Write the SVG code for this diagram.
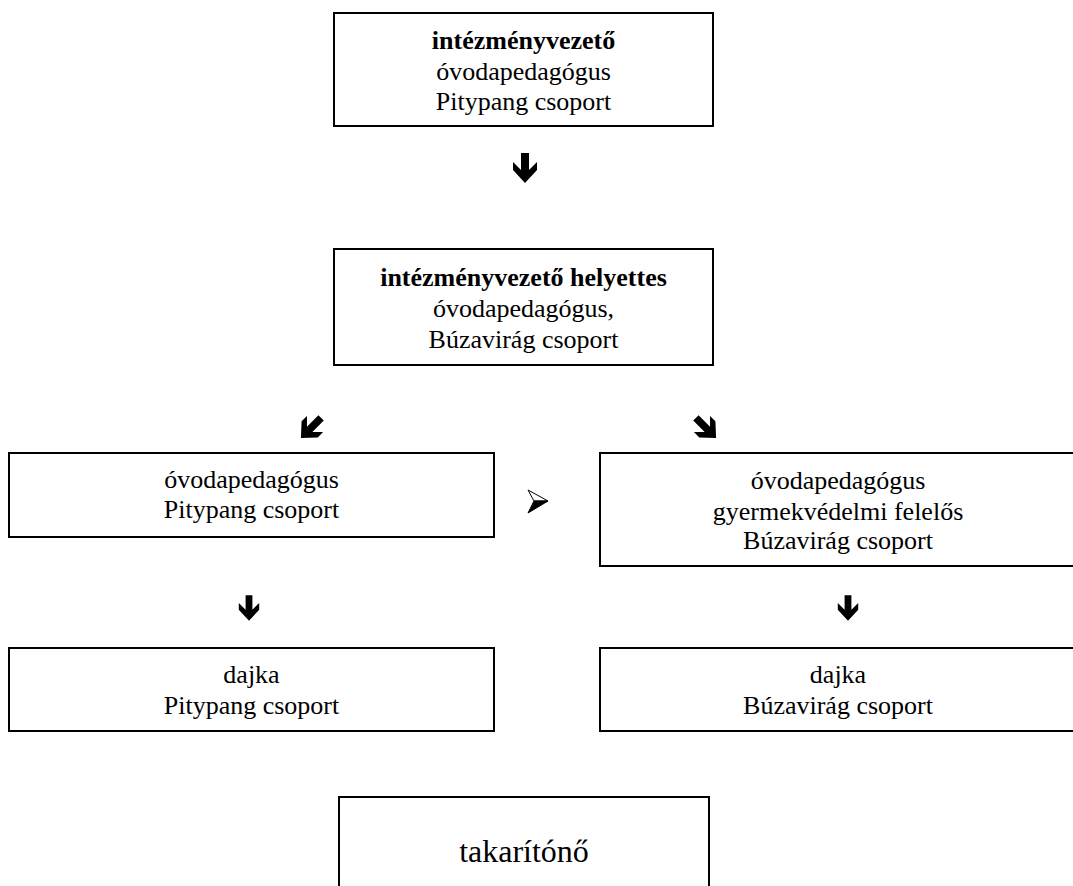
<svg xmlns="http://www.w3.org/2000/svg" width="1073" height="886" viewBox="0 0 1073 886">
<style>
.box{fill:#fff;stroke:#000;stroke-width:2}
.t{font-family:"Liberation Serif","Times New Roman",serif;font-size:26px;fill:#000;text-anchor:middle}
.b{font-weight:bold}
.big{font-size:32px}
.arr{fill:#000}
</style>
<defs>
<path id="dn" d="M-4,-15 L4,-15 L4,2 L12,-6 L12,2 L0,15 L-12,2 L-12,-6 L-4,2 Z"/>
</defs>
<rect width="1073" height="886" fill="#fff"/>
<g id="n1">
<rect class="box" x="334" y="13" width="379" height="113"/>
<text class="t b" x="523.5" y="49">intézményvezető</text>
<text class="t" x="523.5" y="80">óvodapedagógus</text>
<text class="t" x="523.5" y="110">Pitypang csoport</text>
</g>
<g id="n2">
<rect class="box" x="334" y="249" width="379" height="116"/>
<text class="t b" x="523.5" y="286">intézményvezető helyettes</text>
<text class="t" x="523.5" y="317">óvodapedagógus,</text>
<text class="t" x="523.5" y="348">Búzavirág csoport</text>
</g>
<g id="n3">
<rect class="box" x="9" y="453" width="485" height="84"/>
<text class="t" x="251.5" y="488">óvodapedagógus</text>
<text class="t" x="251.5" y="518">Pitypang csoport</text>
</g>
<g id="n4">
<rect class="box" x="600" y="453" width="476" height="113"/>
<text class="t" x="838" y="489">óvodapedagógus</text>
<text class="t" x="838" y="520">gyermekvédelmi felelős</text>
<text class="t" x="838" y="549">Búzavirág csoport</text>
</g>
<g id="n5">
<rect class="box" x="9" y="648" width="485" height="83"/>
<text class="t" x="251.5" y="683">dajka</text>
<text class="t" x="251.5" y="714">Pitypang csoport</text>
</g>
<g id="n6">
<rect class="box" x="600" y="648" width="476" height="83"/>
<text class="t" x="838" y="683">dajka</text>
<text class="t" x="838" y="714">Búzavirág csoport</text>
</g>
<g id="n7">
<rect class="box" x="339" y="797" width="370" height="100"/>
<text class="t big" x="524" y="862">takarítónő</text>
</g>
<g id="connectors">
<use href="#dn" class="arr" transform="translate(525,168)"/>
<use href="#dn" class="arr" transform="translate(311,428) rotate(45) scale(0.95)"/>
<use href="#dn" class="arr" transform="translate(706,428) rotate(-45) scale(0.95)"/>
<use href="#dn" class="arr" transform="translate(249,608) scale(0.85)"/>
<use href="#dn" class="arr" transform="translate(848,608) scale(0.85)"/>
<polygon points="528,490 548,501 534,501" fill="#fff" stroke="#000" stroke-width="1"/>
<polygon points="528,513 548,501 534,501" fill="#000" stroke="#000" stroke-width="1"/>
</g>
</svg>
